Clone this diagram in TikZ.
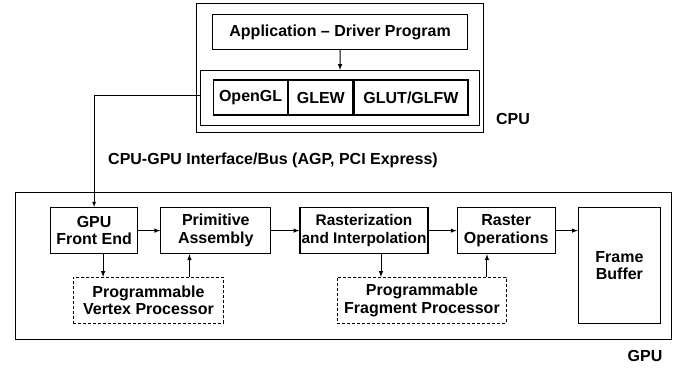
\documentclass[tikz,border=0pt]{standalone}
\usepackage{fontspec}
\setmainfont{Liberation Sans}
\usetikzlibrary{arrows,positioning}

\begin{document}
\begin{tikzpicture}[x=1pt, y=-1pt, >=latex,
    every node/.style={font=\bfseries\fontsize{16}{17.5}\selectfont, align=center, inner sep=1pt},
    frame/.style={draw, line width=0.8pt, inner sep=0pt},
    block/.style={draw, line width=1.2pt, minimum height=46pt},
    prog/.style={draw, line width=0.9pt, dash pattern=on 3pt off 2pt, minimum height=46pt},
    lib/.style={draw, line width=1.2pt, minimum height=35pt}]
    \useasboundingbox (0,0) rectangle (687,368);

    % CPU side
    \node[frame, minimum width=287pt, minimum height=129pt, anchor=north west] (cpu) at (196,3) {};
    \node[block, minimum width=255pt, minimum height=35pt, anchor=north west] (app) at (212,14) {Application -- Driver Program};
    \node[frame, line width=1pt, minimum width=279pt, minimum height=55pt, anchor=north west] (libs) at (200,70) {};
    \node[lib, minimum width=74pt, anchor=west] (ogl) at (213,97.5) {OpenGL};
    \node[lib, minimum width=64pt, right=0pt of ogl] (glew) {GLEW};
    \node[lib, minimum width=114pt, right=0pt of glew] (glut) {GLUT/GLFW};
    \node (cpulabel) at (513,119) {CPU};

    % Bus
    \node[anchor=west] (bus) at (107,160) {CPU-GPU Interface/Bus (AGP, PCI Express)};

    % GPU side
    \node[frame, minimum width=656pt, minimum height=147pt, anchor=north west] (gpu) at (15,192) {};
    \node[block, minimum width=87pt, anchor=north west] (fe) at (50,207) {GPU\\Front End};
    \node[block, minimum width=110pt, right=22pt of fe] (pa) {Primitive\\Assembly};
    \node[block, minimum width=128pt, inner sep=0pt, font=\bfseries\fontsize{15.4}{17.5}\selectfont, right=28pt of pa] (ri) {Rasterization\\and Interpolation};
    \node[block, minimum width=98pt, right=28pt of ri] (ro) {Raster\\Operations};
    \node[block, minimum width=82pt, minimum height=116pt, right=22pt of ro.north east, anchor=north west] (fb) {Frame\\Buffer};
    \node[prog, minimum width=150pt, anchor=north west] (vp) at (73,277) {Programmable\\Vertex Processor};
    \node[prog, minimum width=169pt, anchor=north west] (fp) at (337,277) {Programmable\\Fragment Processor};
    \node (gpulabel) at (645,356) {GPU};

    % Arrows
    \draw[->, line width=1pt] (app) -- (libs);
    \draw[->, line width=0.8pt] ([yshift=2.5pt]libs.west) -| (fe);
    \draw[->, line width=1pt] (fe) -- (pa);
    \draw[->, line width=1pt] (pa) -- (ri);
    \draw[->, line width=1pt] (ri) -- (ro);
    \draw[->, line width=1pt] (ro.east) -- (ro.east -| fb.west);
    \draw[->, line width=1pt] ([xshift=9pt]fe.south) -- ([xshift=9pt]fe.south |- vp.north);
    \draw[->, line width=1pt] ([xshift=41pt]vp.north) -- ([xshift=41pt]vp.north |- pa.south);
    \draw[->, line width=1pt] ([xshift=17pt]ri.south) -- ([xshift=17pt]ri.south |- fp.north);
    \draw[->, line width=1pt] ([xshift=65pt]fp.north) -- ([xshift=65pt]fp.north |- ro.south);
\end{tikzpicture}
\end{document}
